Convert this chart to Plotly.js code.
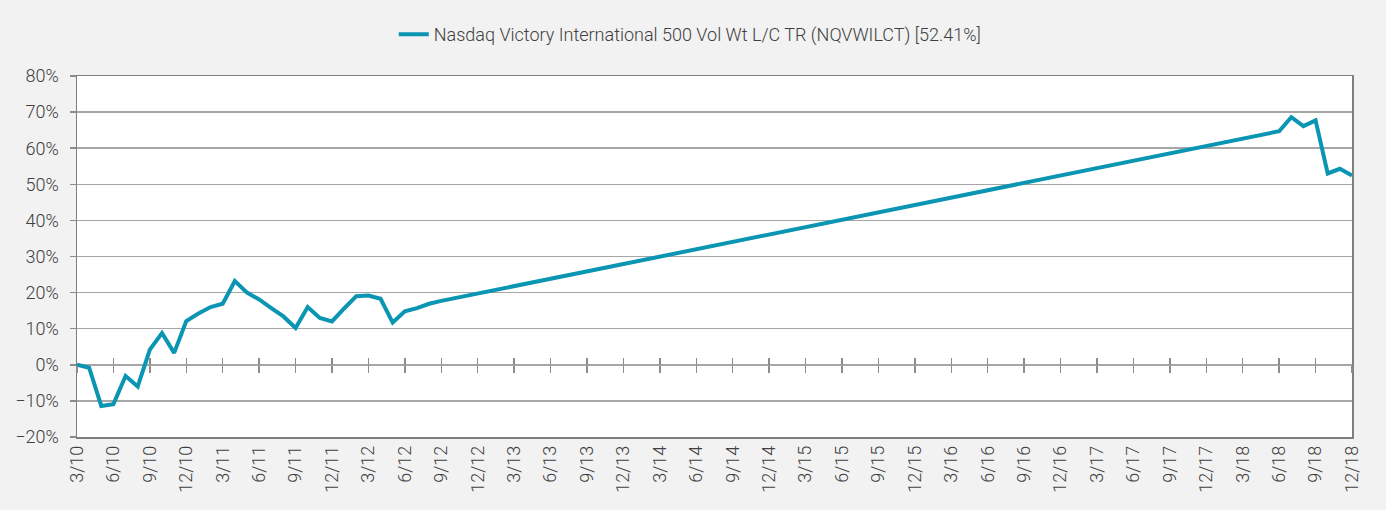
<!DOCTYPE html>
<html>
<head>
<meta charset="utf-8">
<script src="https://cdn.plot.ly/plotly-3.0.1.min.js"></script>
<style>
  html, body { margin: 0; padding: 0; background: #f2f2f2; }
  #chart { width: 1386px; height: 510px; }
</style>
</head>
<body>
<div id="chart"></div>
<script>
// Month of each observation (YYYY-MM)
const dates = [
  "2010-03","2010-04","2010-05","2010-06","2010-07","2010-08","2010-09","2010-10","2010-11","2010-12",
  "2011-01","2011-02","2011-03","2011-04","2011-05","2011-06","2011-07","2011-08","2011-09","2011-10",
  "2011-11","2011-12","2012-01","2012-02","2012-03","2012-04","2012-05","2012-06","2012-07","2012-08",
  "2012-09",
  "2018-06","2018-07","2018-08","2018-09","2018-10","2018-11","2018-12"
];
// Cumulative total return, %
const returns = [
  0, -0.8, -11.4, -10.9, -3.1, -6.0, 4.2, 8.8, 3.3, 12.1,
  14.2, 16.0, 16.9, 23.2, 20.0, 18.1, 15.7, 13.4, 10.2, 16.0,
  13.0, 12.0, 15.6, 19.0, 19.2, 18.3, 11.7, 14.8, 15.7, 16.9,
  17.7,
  64.7, 68.6, 66.1, 67.7, 53.0, 54.3, 52.41
];
// Quarterly tick labels
const tickLabels = [
  "3/10","6/10","9/10","12/10","3/11","6/11","9/11","12/11","3/12","6/12","9/12","12/12",
  "3/13","6/13","9/13","12/13","3/14","6/14","9/14","12/14","3/15","6/15","9/15","12/15",
  "3/16","6/16","9/16","12/16","3/17","6/17","9/17","12/17","3/18","6/18","9/18","12/18"
];
const seriesName = "Nasdaq Victory International 500 Vol Wt L/C TR (NQVWILCT) [52.41%]";

function monthIndex(s) {
  const [y, m] = s.split("-").map(Number);
  return (y - 2010) * 12 + (m - 3);
}
function labelIndex(l) {
  const [m, y] = l.split("/").map(Number);
  return (2000 + y - 2010) * 12 + (m - 3);
}
const xs = dates.map(monthIndex);
const tickVals = tickLabels.map(labelIndex);
const xRange = [tickVals[0], tickVals[tickVals.length - 1]];
const yMin = -20, yMax = 80;

const font = { family: "Roboto, 'Open Sans', sans-serif", size: 18, color: "#404040", weight: 300 };

const trace = {
  x: xs, y: returns, type: "scatter", mode: "lines", name: seriesName,
  line: { color: "#0a95b2", width: 4 }
};
// carrier traces so the tick marks on the 0% line are drawn
const tickCarrierOut = { x: xRange, y: [null, null], xaxis: "x2", yaxis: "y", mode: "lines", showlegend: false, hoverinfo: "skip" };
const tickCarrierIn = { x: xRange, y: [null, null], xaxis: "x3", yaxis: "y", mode: "lines", showlegend: false, hoverinfo: "skip" };

const zeroPos = (0 - yMin) / (yMax - yMin);
const tickAxis = (dir) => ({
  overlaying: "x", anchor: "free", position: zeroPos,
  range: xRange, tickmode: "array", tickvals: tickVals, ticktext: tickLabels,
  showticklabels: false, ticks: dir, ticklen: 7, tickwidth: 1.5, tickcolor: "#8c8c8c",
  showgrid: false, zeroline: false, showline: false
});

const layout = {
  width: 1386, height: 510,
  paper_bgcolor: "#f2f2f2", plot_bgcolor: "#ffffff",
  font: font,
  margin: { l: 77, r: 34, t: 76, b: 73 },
  showlegend: true,
  legend: {
    orientation: "h", x: 0.481, xanchor: "center", y: 1.115, yanchor: "middle",
    font: font, bgcolor: "rgba(0,0,0,0)"
  },
  xaxis: {
    range: xRange, tickmode: "array", tickvals: tickVals, ticktext: tickLabels,
    tickangle: -90, ticks: "", showgrid: false, zeroline: false,
    showline: true, linecolor: "#7f7f7f", linewidth: 1.5, mirror: true,
    tickfont: font
  },
  xaxis2: tickAxis("outside"),
  xaxis3: tickAxis("inside"),
  yaxis: {
    range: [yMin, yMax], dtick: 10, tick0: 0, ticksuffix: "%",
    showgrid: true, gridcolor: "#a6a6a6", gridwidth: 1.5,
    zeroline: false,
    showline: true, linecolor: "#7f7f7f", linewidth: 1.5, mirror: true,
    ticks: "outside", ticklen: 6, tickcolor: "#8c8c8c", tickwidth: 1.5,
    ticklabelstandoff: 7,
    tickfont: font
  }
};

Plotly.newPlot("chart", [trace, tickCarrierOut, tickCarrierIn], layout, { displayModeBar: false, staticPlot: true });
</script>
</body>
</html>
